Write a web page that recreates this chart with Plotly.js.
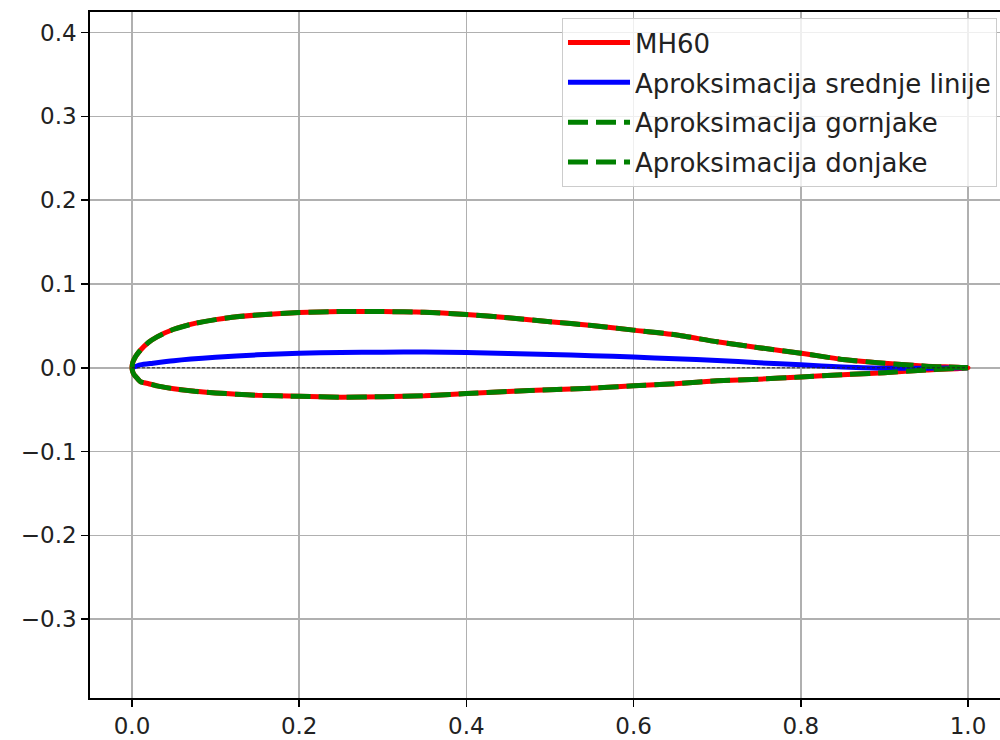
<!DOCTYPE html>
<html>
<head>
<meta charset="utf-8">
<script src="https://cdn.plot.ly/plotly-3.0.1.min.js"></script>
<style>
  html, body { margin: 0; padding: 0; background: #fff; }
  #chart { width: 1000px; height: 740px; }
</style>
</head>
<body>
<div id="chart"></div>
<script>
// Surface stations (chord fraction)
const surfX = [0, 0.001, 0.0025, 0.005, 0.01, 0.02, 0.03, 0.05, 0.075, 0.1, 0.125, 0.15, 0.2, 0.25, 0.3, 0.35, 0.4, 0.45, 0.5, 0.55, 0.6, 0.65, 0.7, 0.75, 0.8, 0.85, 0.9, 0.95, 1.0];
// MH60 upper and lower surface
const upperY = [0, 0.0065, 0.010, 0.0145, 0.021, 0.0305, 0.037, 0.046, 0.053, 0.0575, 0.061, 0.063, 0.066, 0.0672, 0.0672, 0.0662, 0.0635, 0.0598, 0.055, 0.0505, 0.045, 0.0395, 0.031, 0.024, 0.0175, 0.010, 0.0055, 0.002, 0];
const lowerY = [0, -0.005, -0.008, -0.011, -0.0165, -0.019, -0.0215, -0.025, -0.028, -0.030, -0.0315, -0.0328, -0.034, -0.035, -0.0345, -0.0333, -0.0307, -0.0282, -0.0262, -0.0243, -0.0215, -0.019, -0.0155, -0.0135, -0.011, -0.0082, -0.0058, -0.0025, 0];
// Approximations of upper / lower surface
const approxUpperY = upperY.slice();
const approxLowerY = lowerY.slice();
// Mean (camber) line approximation
const camberX = [0, 0.01, 0.025, 0.05, 0.1, 0.15, 0.2, 0.25, 0.3, 0.35, 0.4, 0.45, 0.5, 0.55, 0.6, 0.65, 0.7, 0.75, 0.8, 0.85, 0.9, 0.95, 1.0];
const camberY = [0, 0.0035, 0.0055, 0.0085, 0.0125, 0.0155, 0.0175, 0.0183, 0.0187, 0.0188, 0.0183, 0.0172, 0.016, 0.0145, 0.0128, 0.0108, 0.0088, 0.006, 0.0036, 0.001, -0.0005, -0.0004, 0];
// Chord line
const chordX = [0, 1];
const chordY = [0, 0];

const xTicks = [0, 0.2, 0.4, 0.6, 0.8, 1.0];
const xTickText = ['0.0', '0.2', '0.4', '0.6', '0.8', '1.0'];
const yTicks = [-0.3, -0.2, -0.1, 0, 0.1, 0.2, 0.3, 0.4];
const yTickText = ['\u22120.3', '\u22120.2', '\u22120.1', '0.0', '0.1', '0.2', '0.3', '0.4'];

const names = ['MH60', 'Aproksimacija srednje linije', 'Aproksimacija gornjake', 'Aproksimacija donjake'];

const profileX = surfX.slice().reverse().concat(surfX.slice(1));
const profileY = upperY.slice().reverse().concat(lowerY.slice(1));

const smooth = { shape: 'spline', smoothing: 0.6 };

const traces = [
  { x: profileX, y: profileY, mode: 'lines', name: names[0], legendgroup: 'a',
    line: Object.assign({ color: '#ff0000', width: 5 }, smooth) },
  { x: camberX, y: camberY, mode: 'lines', name: names[1], legendgroup: 'b',
    line: Object.assign({ color: '#0000ff', width: 5 }, smooth) },
  { x: surfX, y: approxUpperY, mode: 'lines', name: names[2], legendgroup: 'c',
    line: Object.assign({ color: '#008000', width: 5, dash: '20px,8px' }, smooth) },
  { x: surfX, y: approxLowerY, mode: 'lines', name: names[3], legendgroup: 'd',
    line: Object.assign({ color: '#008000', width: 5, dash: '20px,8px' }, smooth) },
  { x: chordX, y: chordY, mode: 'lines', showlegend: false, hoverinfo: 'skip',
    line: { color: '#222222', width: 1, dash: '3px,2px' } }
];

const axisCommon = {
  showgrid: true, gridcolor: '#b0b0b0', gridwidth: 1.5,
  zeroline: false, showline: true, linecolor: '#000', linewidth: 1.8,
  ticks: 'outside', ticklen: 7, tickwidth: 1.6, tickcolor: '#000',
  tickfont: { family: 'DejaVu Sans', size: 23, color: '#222' }
};

const layout = {
  width: 1000, height: 740,
  margin: { l: 90, r: 0, t: 12, b: 42, pad: 0 },
  paper_bgcolor: '#fff', plot_bgcolor: '#fff',
  showlegend: true,
  xaxis: Object.assign({}, axisCommon, {
    range: [-0.0502, 1.0383], tickvals: xTicks, ticktext: xTickText, mirror: true
  }),
  yaxis: Object.assign({}, axisCommon, {
    range: [-0.394, 0.4246], tickvals: yTicks, ticktext: yTickText, mirror: false
  }),
  legend: {
    x: 0.9967, y: 0.991, xanchor: 'right', yanchor: 'top',
    bgcolor: 'rgba(255,255,255,0.8)', bordercolor: '#cccccc', borderwidth: 1,
    font: { family: 'DejaVu Sans', size: 26, color: '#222' },
    itemwidth: 62, traceorder: 'grouped', tracegroupgap: 3
  }
};

Plotly.newPlot('chart', traces, layout, { staticPlot: true, displayModeBar: false });
</script>
</body>
</html>
